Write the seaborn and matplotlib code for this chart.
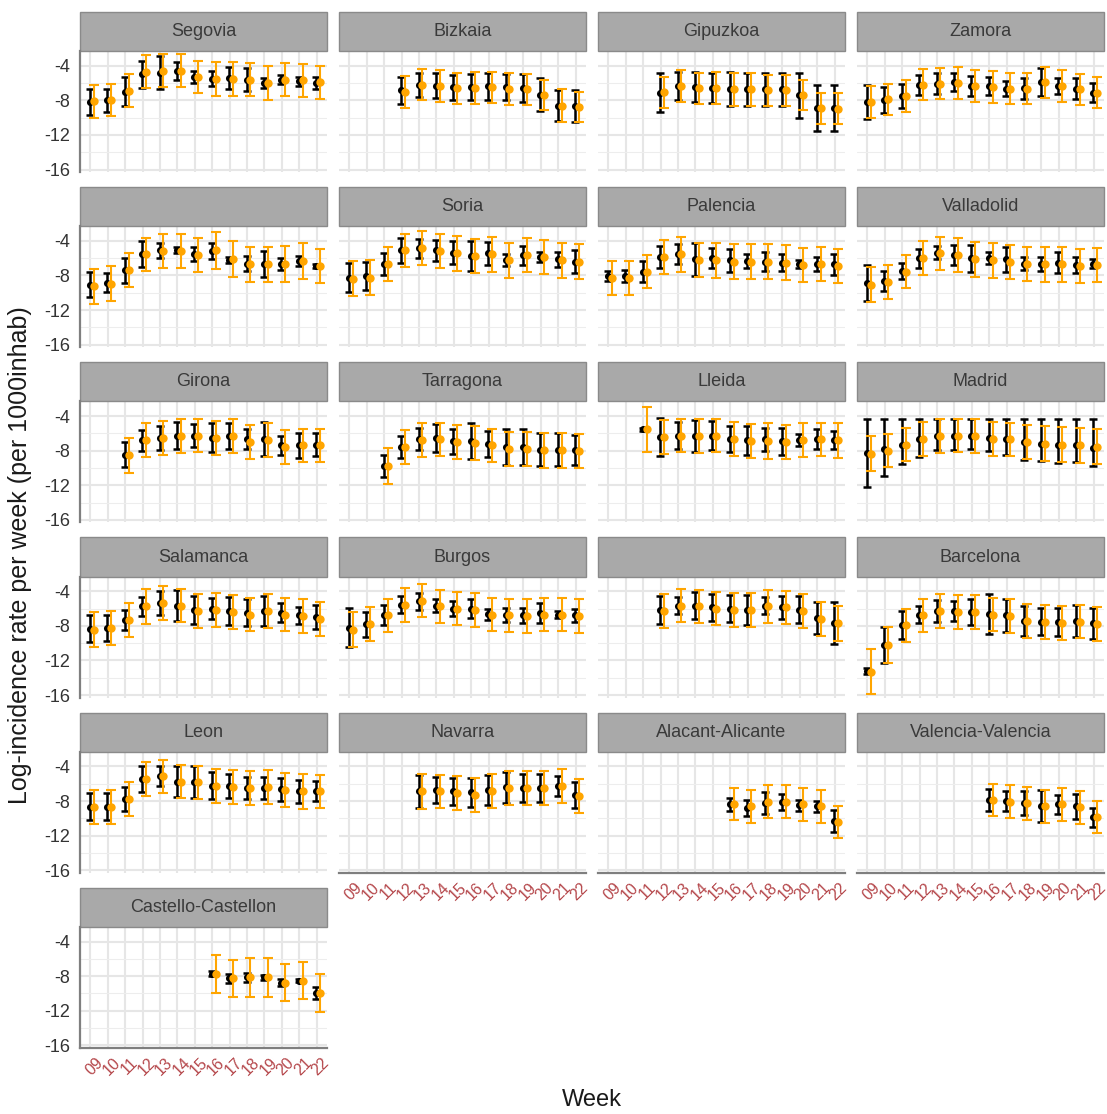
import matplotlib
matplotlib.use("Agg")
import matplotlib.pyplot as plt
from matplotlib.patches import Rectangle
from matplotlib.transforms import ScaledTranslation
import pandas as pd
import seaborn as sns

weeks = ["09", "10", "11", "12", "13", "14", "15", "16", "17", "18", "19", "20", "21", "22"]

# panel order of the facet grid (two strips carry no name in the source)
panels = ["Segovia", "Bizkaia", "Gipuzkoa", "Zamora",
          "", "Soria", "Palencia", "Valladolid",
          "Girona", "Tarragona", "Lleida", "Madrid",
          "Salamanca", "Burgos", "", "Barcelona",
          "Leon", "Navarra", "Alacant-Alicante", "Valencia-Valencia",
          "Castello-Castellon"]
first_week = ["09", "12", "12", "09",
              "09", "09", "09", "09",
              "11", "11", "11", "09",
              "09", "09", "12", "09",
              "09", "13", "16", "16",
              "16"]

# observed log-incidence (black) and half width of its interval
obs = [
    [-8.2, -8.0, -7.0, -5.0, -4.8, -4.6, -5.3, -5.5, -5.4, -5.6, -6.0, -5.6, -5.8, -6.0],
    [-6.85, -6.2, -6.3, -6.5, -6.5, -6.4, -6.5, -6.6, -7.35, -8.6, -8.65],
    [-7.1, -6.35, -6.5, -6.6, -6.7, -6.7, -6.75, -6.75, -7.4, -8.9, -8.9],
    [-8.2, -8.0, -7.5, -6.2, -6.1, -5.9, -6.35, -6.35, -6.65, -6.6, -5.9, -6.35, -6.65, -7.1],
    [-9.05, -8.85, -7.4, -5.55, -5.1, -5.05, -5.55, -5.15, -6.25, -6.65, -6.65, -6.65, -6.3, -6.9],
    [-8.25, -8.05, -6.7, -5.1, -4.85, -5.1, -5.35, -5.75, -5.45, -6.25, -5.65, -5.85, -6.15, -6.4],
    [-8.05, -8.05, -7.55, -5.85, -5.55, -6.15, -6.0, -6.25, -6.3, -6.4, -6.5, -6.7, -6.65, -6.7],
    [-8.9, -8.65, -7.5, -6.0, -5.35, -5.65, -6.0, -6.0, -6.15, -6.65, -6.65, -6.5, -6.8, -6.65],
    [-8.45, -6.8, -6.5, -6.25, -6.25, -6.5, -6.25, -6.7, -6.65, -7.4, -7.4, -7.3],
    [-9.75, -7.55, -6.65, -6.5, -6.9, -6.9, -7.2, -7.55, -7.55, -7.9, -7.9, -7.9],
    [-5.55, -6.4, -6.25, -6.3, -6.25, -6.65, -6.8, -6.7, -6.9, -6.8, -6.65, -6.8],
    [-8.25, -7.8, -7.3, -6.65, -6.3, -6.25, -6.25, -6.5, -6.7, -7.0, -7.2, -7.3, -7.3, -7.7],
    [-8.35, -8.2, -7.3, -5.75, -5.35, -5.65, -6.15, -6.0, -6.3, -6.5, -6.25, -6.5, -6.8, -7.0],
    [-8.2, -7.8, -6.7, -5.55, -5.15, -5.65, -6.0, -6.0, -6.65, -6.7, -6.8, -6.5, -6.7, -6.8],
    [-6.15, -5.65, -5.65, -5.85, -6.0, -6.15, -5.65, -5.85, -6.15, -7.1, -7.7],
    [-13.2, -10.2, -7.9, -6.7, -6.25, -6.3, -6.4, -6.65, -6.8, -7.4, -7.5, -7.55, -7.4, -7.7],
    [-8.65, -8.65, -7.8, -5.45, -5.15, -5.75, -5.85, -6.25, -6.25, -6.5, -6.5, -6.65, -6.9, -6.8],
    [-6.9, -6.7, -6.9, -7.0, -6.7, -6.4, -6.5, -6.5, -6.25, -7.3],
    [-8.35, -8.8, -8.25, -8.1, -8.5, -8.6, -10.3],
    [-7.85, -8.05, -8.25, -8.6, -8.35, -8.6, -9.9],
    [-7.7, -8.25, -8.15, -8.15, -8.75, -8.5, -9.95],
]
obs_err = [
    [1.55, 1.3, 1.65, 1.6, 1.95, 1.05, 0.65, 0.85, 1.25, 1.3, 0.55, 0.5, 0.55, 0.75],
    [1.6, 1.4, 1.45, 1.45, 1.5, 1.6, 1.5, 1.6, 1.9, 1.8, 1.8],
    [2.3, 1.65, 1.75, 1.75, 1.95, 1.9, 1.9, 1.9, 2.6, 2.65, 2.65],
    [1.95, 1.5, 1.4, 1.15, 1.2, 1.05, 1.2, 1.0, 0.85, 1.2, 1.6, 0.95, 1.2, 1.05],
    [1.45, 1.1, 1.45, 1.5, 0.9, 0.35, 0.8, 0.9, 0.35, 0.85, 1.5, 0.7, 0.6, 0.2],
    [1.7, 1.65, 1.25, 1.45, 1.1, 1.2, 1.35, 1.7, 1.3, 0.7, 1.1, 0.55, 0.85, 1.35],
    [0.6, 0.7, 1.25, 1.3, 1.15, 1.9, 1.15, 1.3, 0.8, 1.1, 1.0, 0.45, 0.8, 1.2],
    [2.1, 1.15, 0.9, 1.1, 0.8, 1.15, 1.55, 0.7, 1.45, 0.75, 0.8, 1.2, 0.9, 0.5],
    [1.45, 1.2, 1.4, 1.55, 1.3, 1.7, 1.5, 1.15, 2.0, 1.1, 1.4, 1.3],
    [1.3, 1.25, 1.3, 1.6, 1.45, 2.05, 1.5, 2.05, 2.05, 1.9, 1.9, 1.75],
    [0.2, 2.2, 1.6, 1.85, 1.7, 1.5, 1.65, 1.35, 1.55, 0.7, 1.15, 1.05],
    None,  # Madrid: asymmetric, see madrid_lo / madrid_hi
    [1.55, 1.5, 1.15, 1.1, 1.4, 1.75, 1.6, 1.2, 1.6, 1.55, 1.75, 1.1, 0.95, 1.4],
    [2.3, 1.45, 1.15, 0.95, 1.0, 0.7, 0.85, 1.05, 0.65, 0.8, 0.85, 1.15, 0.4, 0.8],
    [1.6, 1.0, 1.55, 1.55, 1.6, 1.7, 1.0, 1.35, 1.55, 1.9, 2.45],
    [0.35, 2.05, 1.65, 0.95, 1.25, 1.15, 1.55, 2.3, 1.9, 1.75, 1.6, 1.6, 1.85, 1.8],
    [1.6, 1.6, 1.4, 1.55, 1.15, 1.75, 1.85, 1.55, 1.4, 1.25, 1.3, 1.3, 1.3, 1.15],
    [1.95, 1.5, 1.6, 1.65, 1.75, 1.8, 1.65, 1.6, 1.15, 1.55],
    [0.75, 0.9, 1.3, 0.9, 0.65, 0.65, 1.25],
    [1.25, 1.15, 1.4, 1.85, 1.1, 1.45, 1.15],
    [0.25, 0.55, 0.5, 0.3, 0.4, 0.2, 0.7],
]
madrid_lo = [-12.15, -10.9, -9.5, -8.7, -7.95, -7.95, -7.8, -8.05, -8.45, -9.05, -9.25, -9.45, -9.35, -9.75]
madrid_hi = [-4.3, -4.3, -4.3, -4.3, -4.3, -4.3, -4.3, -4.3, -4.3, -4.3, -4.3, -4.3, -4.3, -4.3]

# fitted log-incidence (orange) and half width of its interval
fit = [
    [-8.1, -8.0, -6.9, -4.7, -4.6, -4.6, -5.3, -5.5, -5.5, -5.6, -6.0, -5.6, -5.7, -5.9],
    [-7.05, -6.2, -6.35, -6.6, -6.6, -6.5, -6.7, -6.75, -7.35, -8.6, -8.75],
    [-7.05, -6.35, -6.6, -6.6, -6.75, -6.75, -6.85, -6.85, -7.4, -8.9, -8.95],
    [-8.25, -7.9, -7.5, -6.2, -6.1, -6.0, -6.35, -6.5, -6.65, -6.65, -5.9, -6.35, -6.75, -7.1],
    [-9.25, -8.95, -7.4, -5.55, -5.15, -5.15, -5.6, -5.1, -6.1, -6.7, -6.7, -6.65, -6.3, -6.9],
    [-8.35, -8.25, -6.7, -5.1, -4.85, -5.15, -5.45, -5.75, -5.55, -6.25, -5.65, -5.85, -6.25, -6.4],
    [-8.25, -8.25, -7.55, -5.85, -5.55, -6.25, -6.25, -6.4, -6.4, -6.4, -6.5, -6.8, -6.65, -6.9],
    [-9.05, -8.75, -7.55, -5.95, -5.45, -5.65, -6.15, -6.25, -6.4, -6.7, -6.7, -6.7, -6.9, -6.8],
    [-8.55, -6.8, -6.5, -6.3, -6.25, -6.5, -6.3, -7.0, -6.8, -7.55, -7.4, -7.4],
    [-9.8, -7.55, -6.8, -6.7, -7.0, -7.1, -7.4, -7.8, -7.8, -7.95, -7.95, -8.05],
    [-5.55, -6.4, -6.25, -6.3, -6.25, -6.65, -6.9, -6.9, -7.0, -6.8, -6.7, -6.8],
    [-8.35, -8.0, -7.3, -6.65, -6.3, -6.25, -6.3, -6.65, -6.7, -7.0, -7.2, -7.3, -7.4, -7.55],
    [-8.45, -8.25, -7.3, -5.75, -5.35, -5.65, -6.25, -6.15, -6.4, -6.7, -6.25, -6.7, -6.9, -7.2],
    [-8.45, -7.8, -6.8, -5.55, -5.1, -5.75, -6.0, -6.15, -6.7, -6.8, -6.9, -6.7, -6.7, -6.9],
    [-6.25, -5.65, -5.75, -6.0, -6.15, -6.15, -5.75, -5.85, -6.25, -7.2, -7.7],
    [-13.3, -10.2, -7.95, -6.8, -6.3, -6.4, -6.4, -6.7, -6.9, -7.4, -7.55, -7.7, -7.5, -7.8],
    [-8.65, -8.65, -7.8, -5.45, -5.15, -5.75, -5.85, -6.25, -6.4, -6.5, -6.4, -6.7, -6.9, -6.9],
    [-6.9, -6.9, -7.1, -7.3, -6.8, -6.5, -6.5, -6.5, -6.25, -7.4],
    [-8.35, -8.6, -8.1, -8.1, -8.4, -8.6, -10.4],
    [-7.85, -8.1, -8.25, -8.6, -8.4, -8.7, -9.85],
    [-7.75, -8.25, -8.15, -8.15, -8.75, -8.5, -9.9],
]
fit_err = [
    [1.9, 1.85, 1.9, 1.9, 1.9, 1.9, 1.9, 1.95, 1.95, 1.95, 1.95, 1.95, 1.95, 1.9],
    [1.85, 1.8, 1.85, 1.8, 1.85, 1.8, 1.85, 1.8, 1.75, 1.85, 1.75],
    [1.8, 1.8, 1.8, 1.85, 1.85, 1.85, 1.8, 1.8, 1.75, 1.8, 1.8],
    [1.85, 1.8, 1.8, 1.8, 1.8, 1.8, 1.85, 1.85, 1.8, 1.8, 1.8, 1.85, 1.8, 1.8],
    [2.0, 2.0, 1.95, 1.9, 1.95, 1.95, 1.95, 2.1, 2.1, 2.05, 2.05, 2.05, 2.05, 2.0],
    [2.0, 2.0, 1.95, 1.95, 1.95, 1.95, 2.0, 2.0, 2.0, 2.0, 1.95, 2.0, 2.0, 2.0],
    [1.95, 1.95, 1.9, 1.95, 2.0, 1.95, 2.05, 2.0, 2.0, 2.0, 2.0, 2.0, 2.0, 2.0],
    [2.0, 2.0, 1.9, 1.95, 1.95, 1.95, 2.05, 2.0, 1.95, 1.95, 2.0, 2.0, 2.0, 2.0],
    [2.0, 1.95, 1.95, 1.95, 1.95, 1.95, 1.95, 1.95, 1.95, 1.95, 1.95, 1.95],
    [2.1, 1.95, 1.95, 1.95, 2.0, 2.0, 1.95, 1.95, 1.95, 2.0, 2.0, 2.0],
    [2.55, 2.0, 1.95, 1.95, 1.95, 2.0, 2.0, 2.05, 2.0, 1.95, 1.95, 2.0],
    [2.0, 1.9, 1.95, 1.95, 1.95, 1.95, 1.95, 1.95, 1.95, 2.0, 2.0, 2.0, 2.0, 2.0],
    [2.0, 1.95, 1.95, 2.0, 2.0, 1.95, 1.95, 2.0, 1.95, 1.95, 1.95, 1.95, 1.95, 1.95],
    [2.0, 1.95, 1.95, 1.95, 1.9, 1.95, 1.95, 1.95, 1.95, 1.95, 1.95, 1.95, 1.95, 1.95],
    [1.95, 1.95, 1.95, 1.95, 1.95, 2.0, 1.9, 1.9, 1.95, 1.95, 2.0],
    [2.6, 2.05, 1.95, 1.95, 1.95, 1.95, 1.95, 1.95, 1.95, 1.95, 1.95, 1.95, 1.95, 1.95],
    [1.95, 1.95, 1.95, 1.95, 1.9, 1.9, 1.95, 1.95, 1.95, 2.0, 2.0, 1.95, 2.0, 1.95],
    [2.0, 1.95, 1.95, 2.0, 1.95, 1.95, 1.95, 2.0, 1.95, 1.95],
    [1.9, 1.9, 1.9, 1.9, 1.9, 1.9, 1.85],
    [1.85, 1.9, 1.9, 1.9, 1.9, 1.9, 1.9],
    [2.2, 2.15, 2.2, 2.2, 2.15, 2.15, 2.2],
]

ytick_vals = [-16, -12, -8, -4]
ytick_labels = ["-16", "-12", "-8", "-4"]


def build_frame():
    rows = []
    for p in range(len(panels)):
        start = weeks.index(first_week[p])
        for k, m in enumerate(obs[p]):
            if obs_err[p] is None:
                lo, hi = madrid_lo[k], madrid_hi[k]
            else:
                lo, hi = m - obs_err[p][k], m + obs_err[p][k]
            f, fe = fit[p][k], fit_err[p][k]
            rows.append(dict(panel=p, pos=start + k, obs=m, obs_lo=lo, obs_hi=hi,
                             fit=f, fit_lo=f - fe, fit_hi=f + fe))
    return pd.DataFrame(rows)


def draw_panel(data, **kws):
    ax = plt.gca()
    x = data["pos"] - 0.02
    ax.errorbar(x, data["obs"], yerr=[data["obs"] - data["obs_lo"], data["obs_hi"] - data["obs"]],
                fmt="none", ecolor="black", elinewidth=1.8, capsize=3, capthick=1.8, zorder=3)
    sns.scatterplot(x=x, y=data["obs"], color="black", s=26, linewidth=0,
                    ax=ax, zorder=4, legend=False)
    xf = data["pos"] + 0.2
    ax.errorbar(xf, data["fit"], yerr=[data["fit"] - data["fit_lo"], data["fit_hi"] - data["fit"]],
                fmt="none", ecolor="#FFA500", elinewidth=1.5, capsize=3.6, capthick=1.5, zorder=5)
    sns.scatterplot(x=xf, y=data["fit"], color="#FFA500", s=36, linewidth=0,
                    ax=ax, zorder=6, legend=False)


def main():
    sns.set_style("white")
    plt.rcParams["font.family"] = ["Liberation Sans", "DejaVu Sans"]

    df = build_frame()
    g = sns.FacetGrid(df, col="panel", col_wrap=4, col_order=list(range(len(panels))),
                      sharex=True, sharey=True, height=2, aspect=2)
    g.map_dataframe(draw_panel)
    g.set_titles("")
    g.set_axis_labels("", "")

    fig = g.figure
    fig.set_size_inches(11.07, 11.14)
    fig.set_dpi(100)

    n = len(panels)
    strip_h = 39 / 121
    for i, ax in enumerate(g.axes.flat):
        ax.set_xlim(-0.6, 13.6)
        ax.set_ylim(-16.3, -2.3)
        ax.set_xticks(range(len(weeks)))
        ax.set_xticklabels(weeks)
        ax.set_yticks(ytick_vals)
        ax.set_yticklabels(ytick_labels)
        ax.set_yticks([-14, -10, -6], minor=True)
        ax.set_axisbelow(True)
        ax.grid(which="major", color="#E6E6E6", linewidth=1.5)
        ax.grid(which="minor", axis="y", color="#EDEDED", linewidth=0.8)
        for s in ax.spines.values():
            s.set_visible(False)
        left = i % 4 == 0
        bottom = i + 4 >= n
        ax.spines["left"].set_visible(left)
        ax.spines["left"].set_color("#7F7F7F")
        ax.spines["left"].set_linewidth(1.6)
        ax.spines["bottom"].set_visible(bottom)
        ax.spines["bottom"].set_color("#7F7F7F")
        ax.spines["bottom"].set_linewidth(1.6)
        ax.tick_params(axis="both", which="both", length=0)
        ax.tick_params(axis="y", labelleft=left, labelsize=13, labelcolor="#333333", pad=7)
        ax.tick_params(axis="x", labelbottom=bottom, labelsize=11.5, labelcolor="#B5474B", pad=5)
        if bottom:
            shift = ScaledTranslation(4 / 100, 0, fig.dpi_scale_trans)
            for lab in ax.get_xticklabels():
                lab.set_rotation(45)
                lab.set_ha("center")
                lab.set_va("top")
                lab.set_transform(lab.get_transform() + shift)

        ax.add_patch(Rectangle((0, 1), 1, strip_h, transform=ax.transAxes, clip_on=False,
                               facecolor="#A9A9A9", edgecolor="#8A8A8A", linewidth=1.0))
        ax.text(0.5, 1 + strip_h / 2, panels[i], transform=ax.transAxes,
                ha="center", va="center", fontsize=13, color="#3A3A3A")

    fig.subplots_adjust(left=80 / 1107, right=1104 / 1107, top=1 - 51 / 1114,
                        bottom=1 - 1048 / 1114, wspace=12 / 247, hspace=54 / 121)

    fig.text(20 / 1107, 1 - 555 / 1114, "Log-incidence rate per week (per 1000inhab)",
             rotation=90, ha="center", va="center", fontsize=18, color="#1A1A1A")
    fig.text(592 / 1107, 1 - 1100 / 1114, "Week", ha="center", va="center",
             fontsize=17, color="#1A1A1A")

    fig.savefig("out.png", dpi=100)


if __name__ == "__main__":
    main()
